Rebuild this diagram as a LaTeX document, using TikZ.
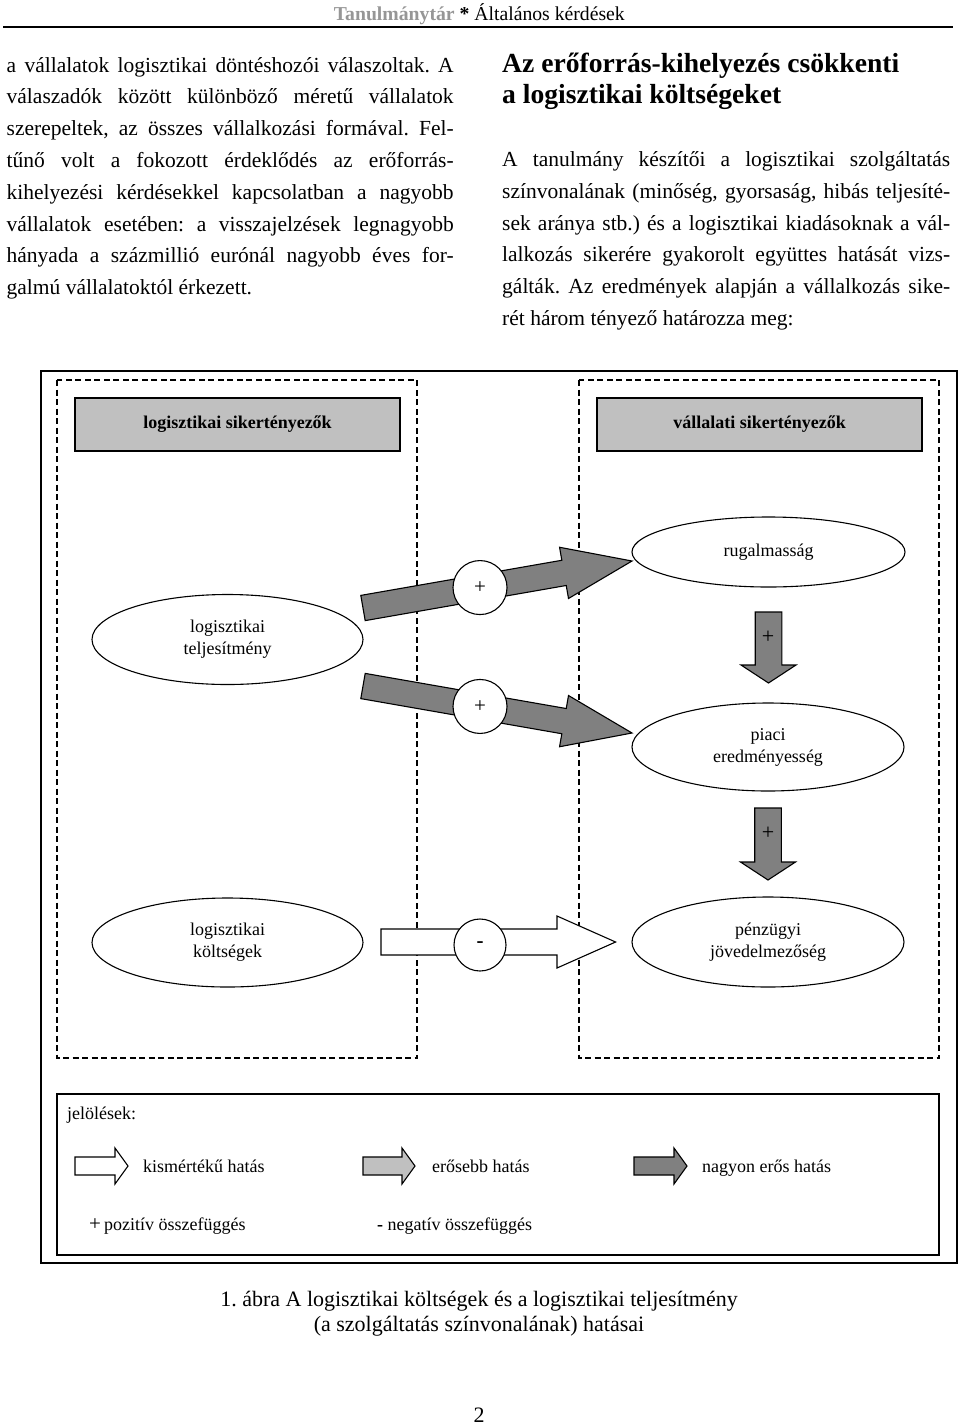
\documentclass[tikz,border=0pt]{standalone}
\usepackage{fontspec}
\setmainfont{Liberation Serif}
\usetikzlibrary{shapes.geometric,calc}
\definecolor{arrowdark}{RGB}{128,128,128}
\definecolor{boxgray}{RGB}{192,192,192}
\definecolor{lightarrow}{RGB}{192,192,192}
\definecolor{headgray}{RGB}{150,150,150}
\newcommand\myfatarrow[6]{%
  \coordinate (fa-h) at ($(#2)!#5!(#1)$);
  \filldraw[fatarrowline, fill=#6]
    ($(#1)!#3!90:(#2)$) -- ($(fa-h)!#3!90:(#2)$) -- ($(fa-h)!#4!90:(#2)$) -- (#2)
    -- ($(fa-h)!#4!-90:(#2)$) -- ($(fa-h)!#3!-90:(#2)$) -- ($(#1)!#3!-90:(#2)$) -- cycle;
}
\tikzset{
  fatarrowline/.style={draw=black, line width=1.1pt, line join=miter},
  bodyline/.style={font=\fontsize{21.5}{26}\selectfont, anchor=base west, inner sep=0pt},
  headline/.style={font=\fontsize{27.6}{32}\selectfont\bfseries, anchor=base west, inner sep=0pt},
  dia/.style={font=\fontsize{18}{22}\selectfont, inner sep=0pt},
  legtext/.style={font=\fontsize{18}{22}\selectfont, inner sep=0pt, anchor=base west},
  oval/.style={ellipse, draw, line width=1.1pt, minimum width=271pt, minimum height=90pt, inner sep=0pt, align=center, font=\fontsize{18}{22}\selectfont},
  signcircle/.style={circle, draw, line width=1.1pt, fill=white, minimum size=54pt, inner sep=0pt, font=\fontsize{21}{22}\selectfont},
  graybox/.style={rectangle, draw, line width=1.5pt, fill=boxgray, minimum width=325pt, minimum height=53pt, inner sep=0pt, font=\fontsize{18}{22}\selectfont\bfseries},
  dashbox/.style={draw, line width=1.2pt, dash pattern=on 6pt off 3.5pt},
  framebox/.style={draw, line width=1.4pt},
  capline/.style={font=\fontsize{22}{26}\selectfont, anchor=base, inner sep=0pt}
}
\begin{document}
\frenchspacing
\begin{tikzpicture}[x=1pt,y=-1pt]
\useasboundingbox (0,0) rectangle (960,1425);
\fill[white] (0,0) rectangle (960,1425);
% header
\node[anchor=base east, inner sep=0pt, font=\fontsize{19.7}{24}\selectfont] (hdr) at (625,20)
  {\textbf{\color{headgray}Tanulmánytár} \textbf{*} Általános kérdések};
\draw[line width=1.4pt] (3,27) -- (953,27);
% left column
\node[bodyline] (l1) at (6.5,72) {\makebox[447pt][s]{a vállalatok logisztikai döntéshozói válaszoltak. A}};
\node[bodyline] (l2) at (6.5,103.8) {\makebox[447pt][s]{válaszadók között különböző méretű vállalatok}};
\node[bodyline] (l3) at (6.5,135.6) {\makebox[447pt][s]{szerepeltek, az összes vállalkozási formával. Fel-}};
\node[bodyline] (l4) at (6.5,167.4) {\makebox[447pt][s]{tűnő volt a fokozott érdeklődés az erőforrás-}};
\node[bodyline] (l5) at (6.5,199.2) {\makebox[447pt][s]{kihelyezési kérdésekkel kapcsolatban a nagyobb}};
\node[bodyline] (l6) at (6.5,231) {\makebox[447pt][s]{vállalatok esetében: a visszajelzések legnagyobb}};
\node[bodyline] (l7) at (6.5,262.8) {\makebox[447pt][s]{hányada a százmillió eurónál nagyobb éves for-}};
\node[bodyline] (l8) at (6.5,294.6) {galmú vállalatoktól érkezett.};
% right column
\node[headline] (h1) at (502,72) {Az erőforrás-kihelyezés csökkenti};
\node[headline] (h2) at (502,103.5) {a logisztikai költségeket};
\node[bodyline] (r1) at (502,166.7) {\makebox[448pt][s]{A tanulmány készítői a logisztikai szolgáltatás}};
\node[bodyline] (r2) at (502,198.3) {\makebox[448pt][s]{színvonalának (minőség, gyorsaság, hibás teljesíté-}};
\node[bodyline] (r3) at (502,230) {\makebox[448pt][s]{sek aránya stb.) és a logisztikai kiadásoknak a vál-}};
\node[bodyline] (r4) at (502,261.7) {\makebox[448pt][s]{lalkozás sikerére gyakorolt együttes hatását vizs-}};
\node[bodyline] (r5) at (502,293.3) {\makebox[448pt][s]{gálták. Az eredmények alapján a vállalkozás sike-}};
\node[bodyline] (r6) at (502,325) {rét három tényező határozza meg:};
% frames
\draw[framebox] (41,371) rectangle (957,1263);
\draw[dashbox] (57,380) rectangle (417,1058);
\draw[dashbox] (579,380) rectangle (939,1058);
% header boxes
\node[graybox] (lsk) at (237.5,424.5) {logisztikai sikertényezők};
\node[graybox] (vsk) at (759.5,424.5) {vállalati sikertényezők};
% ellipses
\node[oval] (teljes) at (227.5,639.5) {logisztikai\\teljesítmény};
\node[oval, minimum width=273pt, minimum height=70pt] (rugal) at (768.5,552) {rugalmasság};
\node[oval, minimum width=272pt, minimum height=88pt] (piaci) at (768,747) {piaci\\eredményesség};
\node[oval, minimum height=89pt] (kolts) at (227.5,942.5) {logisztikai\\költségek};
\node[oval, minimum width=272pt] (penz) at (768,942) {pénzügyi\\jövedelmezőség};
% big arrows
\coordinate (a1s) at (363,608);
\coordinate (a1e) at (632,561);
\coordinate (a2s) at (363,686);
\coordinate (a2e) at (632,733);
\myfatarrow{a1s}{a1e}{12.8pt}{26pt}{69pt}{arrowdark}
\myfatarrow{a2s}{a2e}{12.8pt}{26pt}{69pt}{arrowdark}
\node[signcircle] (c1) at ($(a1s)!0.435!(a1e)$) {+};
\node[signcircle] (c2) at ($(a2s)!0.435!(a2e)$) {+};
% vertical arrows
\coordinate (v1s) at (rugal.south |- 0,612);
\coordinate (v1e) at (rugal.south |- 0,683);
\coordinate (v2s) at (piaci.south |- 0,808);
\coordinate (v2e) at (piaci.south |- 0,880);
\myfatarrow{v1s}{v1e}{13.3pt}{27.5pt}{18pt}{arrowdark}
\myfatarrow{v2s}{v2e}{13.3pt}{27.5pt}{18pt}{arrowdark}
\node[dia, font=\fontsize{22}{22}\selectfont] (p1) at (768,637) {+};
\node[dia, font=\fontsize{22}{22}\selectfont] (p2) at (768,833) {+};
% white arrow
\coordinate (ws) at (381,942);
\coordinate (we) at (615.6,942);
\myfatarrow{ws}{we}{13pt}{26pt}{58.6pt}{white}
\node[signcircle, minimum size=52pt] (c3) at (480,945) {\textbf{-}};
% legend
\draw[framebox] (57,1094) rectangle (939,1255);
\node[legtext] (jel) at (67,1119) {jelölések:};
\coordinate (g1s) at (75,1166);
\coordinate (g1e) at (128,1166);
\coordinate (g2s) at (363,1166);
\coordinate (g2e) at (415,1166);
\coordinate (g3s) at (634,1166);
\coordinate (g3e) at (687,1166);
\myfatarrow{g1s}{g1e}{9pt}{18pt}{13pt}{white}
\myfatarrow{g2s}{g2e}{9pt}{18pt}{13pt}{lightarrow}
\myfatarrow{g3s}{g3e}{9pt}{18pt}{13pt}{arrowdark}
\node[legtext] (k1) at (143,1172) {kismértékű hatás};
\node[legtext] (k2) at (432,1172) {erősebb hatás};
\node[legtext] (k3) at (702,1172) {nagyon erős hatás};
\node[legtext] (pos) at (89,1230) {{\fontsize{21}{22}\selectfont +}\,pozitív összefüggés};
\node[legtext] (neg) at (377,1230) {\textbf{-} negatív összefüggés};
% caption
\node[capline] (cap1) at (479,1306) {1. ábra A logisztikai költségek és a logisztikai teljesítmény};
\node[capline] (cap2) at (479,1331) {(a szolgáltatás színvonalának) hatásai};
\node[capline] (pg) at (479,1422) {2};
\end{tikzpicture}
\end{document}
